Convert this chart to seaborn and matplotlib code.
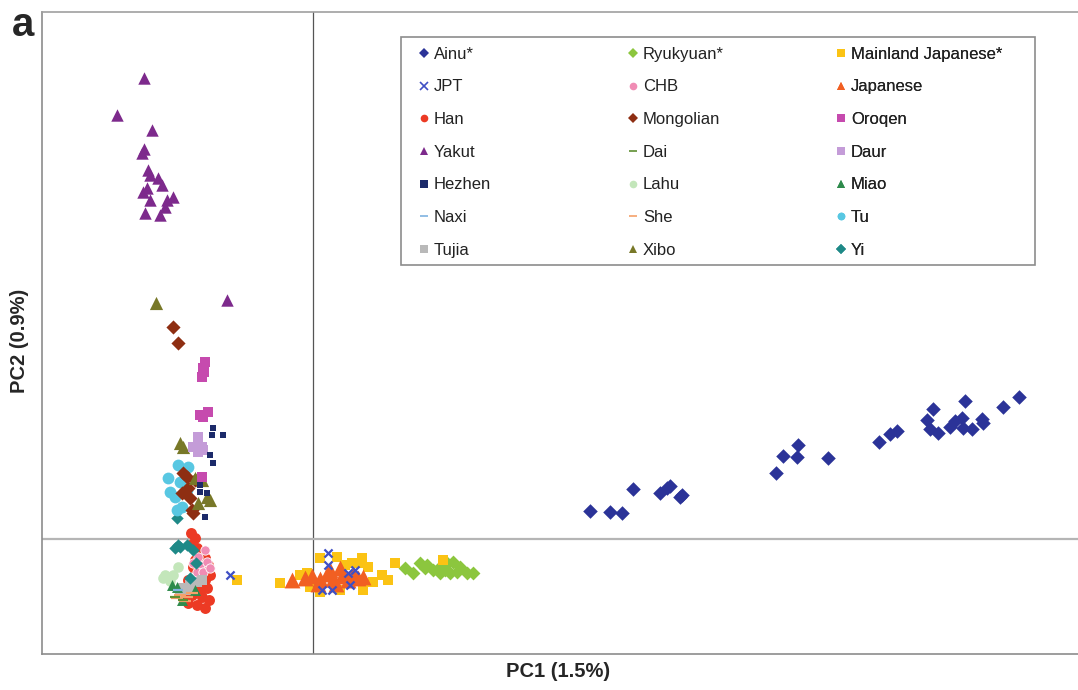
import numpy as np
import pandas as pd
import matplotlib
matplotlib.use("Agg")
import matplotlib.pyplot as plt
from matplotlib.lines import Line2D
from matplotlib.patches import Rectangle
import seaborn as sns

# PCA coordinates (PC1, PC2)
ainu_pc1 = [0.0277, 0.0297, 0.0309, 0.0320, 0.0347, 0.0354, 0.0357, 0.0367, 0.0369, 0.0463, 0.0470,
            0.0484, 0.0485, 0.0515, 0.0566, 0.0577, 0.0584, 0.0620, 0.0614, 0.0617, 0.0625, 0.0637,
            0.0642, 0.0649, 0.0652, 0.0650, 0.0659, 0.0669, 0.0670, 0.0690, 0.0706]
ainu_pc2 = [0.0028, 0.0027, 0.0026, 0.0050, 0.0046, 0.0051, 0.0053, 0.0042, 0.0044, 0.0066, 0.0083,
            0.0082, 0.0094, 0.0081, 0.0097, 0.0105, 0.0108, 0.0130, 0.0119, 0.0110, 0.0106, 0.0112,
            0.0118, 0.0121, 0.0138, 0.0111, 0.0110, 0.0120, 0.0116, 0.0132, 0.0142]

ryukyuan_pc1 = [0.0092, 0.0100, 0.0107, 0.0112, 0.0114, 0.0120, 0.0127, 0.0127, 0.0134, 0.0137,
                0.0140, 0.0144, 0.0147, 0.0154, 0.0160, 0.0132]
ryukyuan_pc2 = [-0.0029, -0.0034, -0.0024, -0.0029, -0.0026, -0.0031, -0.0028, -0.0034, -0.0024, -0.0034,
                -0.0023, -0.0033, -0.0028, -0.0034, -0.0034, -0.0031]

mainland_pc1 = [-0.0076, -0.0033, -0.0006, -0.0003, 0.0007, 0.0007, 0.0024, 0.0039, 0.0047, 0.0049, 0.0055,
                0.0044, 0.0060, 0.0050, 0.0069, 0.0075, 0.0082, 0.0130, 0.0027, -0.0013, 0.0032]
mainland_pc2 = [-0.0041, -0.0044, -0.0034, -0.0048, -0.0053, -0.0019, -0.0018, -0.0024, -0.0024, -0.0019, -0.0028,
                -0.0041, -0.0043, -0.0051, -0.0036, -0.0041, -0.0024, -0.0021, -0.0051, -0.0036, -0.0026]

japanese_pc1 = [-0.0021, -0.0008, -0.0001, 0.0007, 0.0014, 0.0020, 0.0027, 0.0029, 0.0035, 0.0040,
                0.0045, 0.0050, 0.0005, 0.0023, 0.0017]
japanese_pc2 = [-0.0041, -0.0039, -0.0037, -0.0040, -0.0035, -0.0040, -0.0029, -0.0037, -0.0041, -0.0035,
                -0.0039, -0.0038, -0.0045, -0.0045, -0.0031]

jpt_pc1 = [-0.0083, 0.0015, 0.0015, 0.0035, 0.0037, 0.0009, 0.0019, 0.0042]
jpt_pc2 = [-0.0036, -0.0014, -0.0026, -0.0034, -0.0046, -0.0051, -0.0051, -0.0031]

han_pc1 = [-0.0122, -0.0118, -0.0123, -0.0116, -0.0113, -0.0118, -0.0108, -0.0105, -0.0120, -0.0113,
           -0.0103, -0.0108, -0.0125, -0.0116, -0.0106, -0.0130, -0.0121, -0.0111, -0.0104, -0.0125,
           -0.0116, -0.0108, -0.0127, -0.0120, -0.0113]
han_pc2 = [0.0006, 0.0001, -0.0006, -0.0009, -0.0016, -0.0021, -0.0019, -0.0026, -0.0028, -0.0033,
           -0.0036, -0.0041, -0.0041, -0.0046, -0.0049, -0.0053, -0.0056, -0.0058, -0.0061, -0.0064,
           -0.0066, -0.0069, -0.0059, -0.0049, -0.0052]

chb_pc1 = [-0.0113, -0.0106, -0.0116, -0.0110, -0.0120, -0.0103, -0.0108, -0.0115]
chb_pc2 = [-0.0026, -0.0023, -0.0033, -0.0033, -0.0024, -0.0029, -0.0011, -0.0018]

yi_pc1 = [-0.0136, -0.0138, -0.0133, -0.0126, -0.0120, -0.0135, -0.0123, -0.0117]
yi_pc2 = [0.0021, -0.0009, -0.0008, -0.0006, -0.0011, -0.0006, -0.0039, -0.0024]

lahu_pc1 = [-0.0150, -0.0140, -0.0135, -0.0148, -0.0143]
lahu_pc2 = [-0.0039, -0.0036, -0.0028, -0.0036, -0.0042]

miao_pc1 = [-0.0141, -0.0136, -0.0118, -0.0131]
miao_pc2 = [-0.0046, -0.0048, -0.0051, -0.0061]

tujia_pc1 = [-0.0133, -0.0130, -0.0123, -0.0116, -0.0111, -0.0125]
tujia_pc2 = [-0.0053, -0.0049, -0.0046, -0.0043, -0.0041, -0.0051]

she_pc1 = [-0.0133, -0.0126, -0.0136, -0.0121, -0.0128]
she_pc2 = [-0.0056, -0.0058, -0.0059, -0.0054, -0.0062]

dai_pc1 = [-0.0138, -0.0130]
dai_pc2 = [-0.0058, -0.0061]

naxi_pc1 = [-0.0135]
naxi_pc2 = [-0.0051]

tu_pc1 = [-0.0135, -0.0125, -0.0145, -0.0133, -0.0143, -0.0138, -0.0128, -0.0131, -0.0136, -0.0126]
tu_pc2 = [0.0074, 0.0072, 0.0061, 0.0057, 0.0047, 0.0042, 0.0047, 0.0032, 0.0029, 0.0049]

mongolian_pc1 = [-0.0140, -0.0135, -0.0130, -0.0126, -0.0131, -0.0123, -0.0121, -0.0120, -0.0125, -0.0118]
mongolian_pc2 = [0.0212, 0.0196, 0.0066, 0.0062, 0.0046, 0.0041, 0.0029, 0.0026, 0.0051, 0.0059]

xibo_pc1 = [-0.0157, -0.0133, -0.0130, -0.0118, -0.0111, -0.0106, -0.0115, -0.0103]
xibo_pc2 = [0.0236, 0.0096, 0.0092, 0.0061, 0.0059, 0.0042, 0.0036, 0.0039]

oroqen_pc1 = [-0.0108, -0.0110, -0.0111, -0.0113, -0.0105, -0.0110, -0.0111, -0.0109]
oroqen_pc2 = [0.0177, 0.0171, 0.0162, 0.0124, 0.0127, 0.0122, 0.0062, 0.0167]

daur_pc1 = [-0.0115, -0.0120, -0.0111, -0.0115, -0.0110]
daur_pc2 = [0.0102, 0.0092, 0.0092, 0.0087, 0.0089]

hezhen_pc1 = [-0.0100, -0.0090, -0.0101, -0.0103, -0.0100, -0.0113, -0.0106, -0.0108, -0.0113]
hezhen_pc2 = [0.0111, 0.0104, 0.0104, 0.0084, 0.0076, 0.0054, 0.0046, 0.0022, 0.0047]

yakut_pc1 = [-0.0169, -0.0196, -0.0161, -0.0169, -0.0171, -0.0165, -0.0163, -0.0155, -0.0151, -0.0166,
             -0.0170, -0.0163, -0.0146, -0.0140, -0.0148, -0.0168, -0.0153, -0.0086]
yakut_pc2 = [0.0461, 0.0424, 0.0409, 0.0390, 0.0386, 0.0369, 0.0364, 0.0361, 0.0354, 0.0351,
             0.0347, 0.0339, 0.0339, 0.0342, 0.0332, 0.0326, 0.0324, 0.0239]

# population -> (pc1, pc2), in drawing order
groups = {
    'Ainu*': (ainu_pc1, ainu_pc2),
    'Ryukyuan*': (ryukyuan_pc1, ryukyuan_pc2),
    'Mainland Japanese*': (mainland_pc1, mainland_pc2),
    'Japanese': (japanese_pc1, japanese_pc2),
    'JPT': (jpt_pc1, jpt_pc2),
    'Han': (han_pc1, han_pc2),
    'CHB': (chb_pc1, chb_pc2),
    'Lahu': (lahu_pc1, lahu_pc2),
    'Tujia': (tujia_pc1, tujia_pc2),
    'Miao': (miao_pc1, miao_pc2),
    'She': (she_pc1, she_pc2),
    'Dai': (dai_pc1, dai_pc2),
    'Naxi': (naxi_pc1, naxi_pc2),
    'Yi': (yi_pc1, yi_pc2),
    'Tu': (tu_pc1, tu_pc2),
    'Mongolian': (mongolian_pc1, mongolian_pc2),
    'Xibo': (xibo_pc1, xibo_pc2),
    'Oroqen': (oroqen_pc1, oroqen_pc2),
    'Daur': (daur_pc1, daur_pc2),
    'Hezhen': (hezhen_pc1, hezhen_pc2),
    'Yakut': (yakut_pc1, yakut_pc2),
}

df = pd.concat([pd.DataFrame({'PC1': x, 'PC2': y, 'pop': name}) for name, (x, y) in groups.items()],
               ignore_index=True)

# marker, colour, size
style = {
    'Ainu*': ('D', '#2B3398', 55),
    'Ryukyuan*': ('D', '#8CC63E', 50),
    'Mainland Japanese*': ('s', '#FBC314', 55),
    'JPT': ('x', '#3F4FC4', 34),
    'CHB': ('o', '#F08CB4', 45),
    'Japanese': ('^', '#F15F22', 130),
    'Han': ('o', '#EC3A24', 62),
    'Mongolian': ('D', '#8E2E12', 52),
    'Oroqen': ('s', '#C64AAE', 58),
    'Yakut': ('^', '#7D2A8C', 80),
    'Dai': ('_', '#5F8F32', 45),
    'Daur': ('s', '#C49CD8', 45),
    'Hezhen': ('s', '#1C2A6A', 22),
    'Lahu': ('o', '#C3E6BA', 58),
    'Miao': ('^', '#2E8B4C', 62),
    'Naxi': ('_', '#7FB3E0', 45),
    'She': ('_', '#F5A16A', 70),
    'Tu': ('o', '#58C7E2', 72),
    'Tujia': ('s', '#B9B9B9', 50),
    'Xibo': ('^', '#787828', 90),
    'Yi': ('D', '#1E8987', 40),
}

# legend is filled row by row: three columns
legend_cols = [
    ['Ainu*', 'JPT', 'Han', 'Yakut', 'Hezhen', 'Naxi', 'Tujia'],
    ['Ryukyuan*', 'CHB', 'Mongolian', 'Dai', 'Lahu', 'She', 'Xibo'],
    ['Mainland Japanese*', 'Japanese', 'Oroqen', 'Daur', 'Miao', 'Tu', 'Yi'],
]

sns.set_style('white')
plt.rcParams['font.family'] = ['Liberation Sans', 'DejaVu Sans']

fig = plt.figure(figsize=(10.78, 6.90), dpi=100)
ax = fig.add_axes([42 / 1078, 36 / 690, 1036 / 1078, 642 / 690])

ax.axvline(0, color='#555555', lw=0.9, zorder=1)
ax.axhline(0, color='#B5B5B5', lw=1.6, zorder=1)

for name in groups:
    m, c, s = style[name]
    sub = df[df['pop'] == name]
    if m in ('x', '_'):
        sns.scatterplot(data=sub, x='PC1', y='PC2', marker=m, color=c, s=s, linewidth=1.6, ax=ax,
                        legend=False, zorder=3)
    elif name == 'CHB':
        sns.scatterplot(data=sub, x='PC1', y='PC2', marker=m, color=c, s=s, edgecolor='white',
                        linewidth=0.6, ax=ax, legend=False, zorder=3)
    else:
        sns.scatterplot(data=sub, x='PC1', y='PC2', marker=m, color=c, s=s, linewidth=0, ax=ax,
                        legend=False, zorder=3)

ax.set_xlim(-0.0271, 0.0765)
ax.set_ylim(-0.0115, 0.0527)
ax.set_xticks([])
ax.set_yticks([])

for side in ['left', 'bottom', 'top']:
    ax.spines[side].set_color('#8C8C8C')
    ax.spines[side].set_linewidth(1.2)
ax.spines['top'].set_color('#A0A0A0')
ax.spines['right'].set_visible(False)

ax.set_xlabel('PC1 (1.5%)', fontsize=14.5, fontweight='bold')
ax.set_ylabel('PC2 (0.9%)', fontsize=14.5, fontweight='bold')
ax.xaxis.set_label_coords(0.498, -0.012)
ax.yaxis.set_label_coords(-0.013, 0.487)

# legend frame + one legend per column
ax.add_patch(Rectangle((0.3465, 0.606), 0.612, 0.355, transform=ax.transAxes, fill=False,
                       edgecolor='#8C8C8C', lw=1.2, zorder=4))
col_x = [0.364, 0.5655, 0.7665]
for names, x0 in zip(legend_cols, col_x):
    handles = []
    for name in names:
        m, c, s = style[name]
        handles.append(Line2D([], [], marker=m, color=c, linestyle='', markersize=5.5,
                              markeredgewidth=1.2 if m in ('x', '_') else 0))
    leg = ax.legend(handles=handles, labels=names, loc='upper left', bbox_to_anchor=(x0, 0.946),
                    frameon=False, fontsize=12, handlelength=0.6, handletextpad=0.3,
                    labelspacing=1.06, borderpad=0, borderaxespad=0)
    for t in leg.get_texts():
        t.set_color('#222222')
    ax.add_artist(leg)

fig.text(0.011, 0.948, 'a', fontsize=29, fontweight='bold', va='baseline', ha='left')

fig.savefig('out.png', dpi=100, facecolor='white')
